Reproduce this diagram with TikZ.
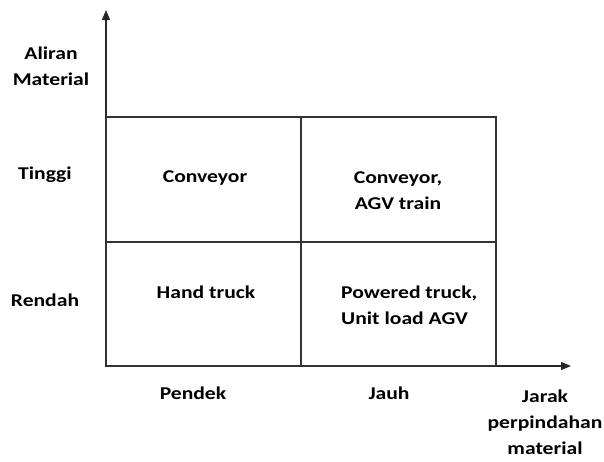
\documentclass[tikz,border=0pt]{standalone}
\usepackage{fontspec}
\setmainfont{Carlito}[FakeStretch=1.2]
\usetikzlibrary{arrows.meta}
\begin{document}
\begin{tikzpicture}[x=1pt,y=-1pt,
  every node/.style={font=\fontsize{18}{26}\selectfont\bfseries, text=black, inner sep=0pt},
  gridline/.style={draw=black!80, line width=1.2pt},
  axis/.style={draw=black!85, line width=1.3pt, -{Triangle[length=10pt,width=8pt]}},
  lbl/.style={align=center}]
\useasboundingbox (0,0) rectangle (604,461);

% axes
\coordinate (origin) at (106,366);
\coordinate (ytip) at (106,10);
\coordinate (xtip) at (571,366);
\draw[axis] (origin) -- (ytip);
\draw[axis] (origin) -- (xtip);

% 2x2 grid
\draw[gridline] (106,117) rectangle (496,366);
\draw[gridline] (301,117) -- (301,366);
\draw[gridline] (106,242) -- (496,242);

% axis labels
\node[lbl] (flow) at (51,66) {Aliran\\Material};
\node (high) at (45,175) {Tinggi};
\node (low) at (45,300) {Rendah};
\node (short) at (193,393) {Pendek};
\node (far) at (389,393) {Jauh};
\node[lbl] (dist) at (545,422) {Jarak\\perpindahan\\material};

% cell contents
\node (c11) at (205,178) {Conveyor};
\node[lbl] (c12) at (398,191) {Conveyor,\\AGV train};
\node (c21) at (206,292) {Hand truck};
\node[align=left, anchor=west] (c22) at (341,305) {Powered truck,\\Unit load AGV};
\end{tikzpicture}
\end{document}
